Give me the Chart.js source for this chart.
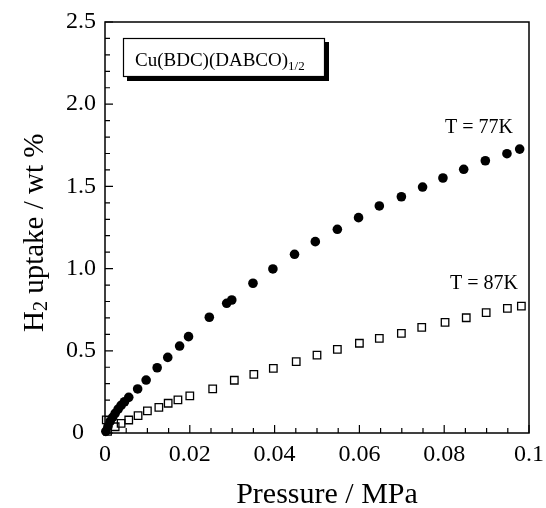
<!DOCTYPE html>
<html>
<head>
<meta charset="utf-8">
<script src="https://cdn.jsdelivr.net/npm/chart.js@4.4.1/dist/chart.umd.min.js"></script>
<style>
  html, body { margin: 0; padding: 0; background: #fff; }
  canvas { display: block; }
</style>
</head>
<body>
<canvas id="myChart" width="546" height="508"></canvas>
<script>
// T = 77K (filled circles)
var pressure77 = [0.0002, 0.0007, 0.0012, 0.0018, 0.0024, 0.0031, 0.0038, 0.0046, 0.0056, 0.0077, 0.0097, 0.0123, 0.0148, 0.0176, 0.0197, 0.0246, 0.0287, 0.0299, 0.0349, 0.0396, 0.0447, 0.0496, 0.0548, 0.0598, 0.0647, 0.0699, 0.0749, 0.0797, 0.0846, 0.0897, 0.0948, 0.0978];
var uptake77 = [0.01, 0.04, 0.07, 0.095, 0.12, 0.145, 0.168, 0.19, 0.217, 0.268, 0.322, 0.397, 0.46, 0.529, 0.586, 0.704, 0.789, 0.809, 0.911, 0.998, 1.087, 1.164, 1.239, 1.31, 1.381, 1.437, 1.496, 1.551, 1.604, 1.656, 1.699, 1.727];

// T = 87K (open squares)
var pressure87 = [0.0003, 0.0006, 0.0024, 0.0038, 0.0056, 0.0078, 0.0100, 0.0127, 0.0149, 0.0172, 0.0200, 0.0254, 0.0305, 0.0351, 0.0397, 0.0451, 0.0500, 0.0548, 0.0600, 0.0647, 0.0699, 0.0747, 0.0802, 0.0852, 0.0899, 0.0949, 0.0982];
var uptake87 = [0.08, 0.01, 0.038, 0.059, 0.079, 0.106, 0.134, 0.156, 0.181, 0.202, 0.226, 0.268, 0.321, 0.357, 0.393, 0.434, 0.474, 0.509, 0.546, 0.576, 0.606, 0.643, 0.673, 0.701, 0.732, 0.758, 0.772];

var seriesLabels = ['T = 77K', 'T = 87K'];
var materialName = 'Cu(BDC)(DABCO)';
var materialSub = '1/2';

var serif = "'Liberation Serif', 'Times New Roman', serif";

function toPoints(xs, ys) {
    return xs.map(function (x, i) { return {x: x, y: ys[i]}; });
}

// frame, inward ticks, annotations and axis titles
var decorations = {
    id: 'decorations',
    afterDraw: function (chart) {
        var ctx = chart.ctx, a = chart.chartArea;
        var xs = chart.scales.x, ys = chart.scales.y;
        ctx.save();
        ctx.strokeStyle = '#000';
        ctx.lineWidth = 1.5;
        ctx.strokeRect(a.left, a.top, a.right - a.left, a.bottom - a.top);

        ctx.lineWidth = 1.2;
        ctx.beginPath();
        for (var i = 0; i <= 20; i++) {
            var px = xs.getPixelForValue(i * 0.005);
            var len = i % 4 === 0 ? 8 : 5;
            ctx.moveTo(px, a.bottom);
            ctx.lineTo(px, a.bottom - len);
        }
        for (var j = 0; j <= 25; j++) {
            var py = ys.getPixelForValue(j * 0.1);
            var l2 = j % 5 === 0 ? 8 : 5;
            ctx.moveTo(a.left, py);
            ctx.lineTo(a.left + l2, py);
        }
        ctx.stroke();

        // material label box with drop shadow
        var bx = a.left + 18, by = a.top + 16, bw = 202, bh = 39;
        ctx.fillStyle = '#000';
        ctx.fillRect(bx + 4, by + 4, bw, bh);
        ctx.fillStyle = '#fff';
        ctx.fillRect(bx, by, bw, bh);
        ctx.lineWidth = 1.2;
        ctx.strokeRect(bx + 0.5, by + 0.5, bw - 1, bh - 1);
        ctx.fillStyle = '#000';
        ctx.textBaseline = 'alphabetic';
        ctx.textAlign = 'left';
        ctx.font = '19px ' + serif;
        ctx.fillText(materialName, bx + 12, by + 28);
        var w = ctx.measureText(materialName).width;
        ctx.font = '13px ' + serif;
        ctx.fillText(materialSub, bx + 12 + w, by + 32);

        // temperature labels
        ctx.font = '20px ' + serif;
        ctx.textAlign = 'right';
        ctx.fillText(seriesLabels[0], 513, 133);
        ctx.fillText(seriesLabels[1], 518, 289);

        // x axis title
        ctx.font = '30px ' + serif;
        ctx.textAlign = 'center';
        ctx.fillText('Pressure / MPa', 327, 503);

        // y axis title with subscript
        ctx.save();
        ctx.translate(43, 332);
        ctx.rotate(-Math.PI / 2);
        ctx.textAlign = 'left';
        ctx.font = '29px ' + serif;
        ctx.fillText('H', 0, 0);
        var hw = ctx.measureText('H').width;
        ctx.font = '20px ' + serif;
        ctx.fillText('2', hw, 4);
        var sw = ctx.measureText('2').width;
        ctx.font = '29px ' + serif;
        ctx.fillText(' uptake / wt %', hw + sw, 0);
        ctx.restore();

        ctx.restore();
    }
};

var ctx = document.getElementById('myChart').getContext('2d');
var myChart = new Chart(ctx, {
    type: 'scatter',
    data: {
        datasets: [{
            label: seriesLabels[0],
            data: toPoints(pressure77, uptake77),
            pointStyle: 'circle',
            pointRadius: 4.8,
            backgroundColor: '#000',
            borderColor: '#000',
            borderWidth: 0,
            clip: false
        }, {
            label: seriesLabels[1],
            data: toPoints(pressure87, uptake87),
            pointStyle: 'rect',
            pointRadius: 5.3,
            backgroundColor: 'rgba(255,255,255,0)',
            borderColor: '#000',
            borderWidth: 1.3,
            clip: false
        }]
    },
    options: {
        responsive: false,
        animation: false,
        events: [],
        layout: {
            padding: {top: 22, right: 17, bottom: 0, left: 0}
        },
        plugins: {
            legend: {display: false},
            tooltip: {enabled: false}
        },
        scales: {
            x: {
                type: 'linear',
                min: 0,
                max: 0.1,
                grid: {display: false, drawTicks: false},
                border: {display: false},
                afterFit: function (scale) {
                    scale.height = 75;
                    scale.paddingLeft = 0;
                    scale.paddingRight = 0;
                },
                ticks: {
                    stepSize: 0.02,
                    padding: 7,
                    color: '#000',
                    font: {family: serif, size: 24},
                    callback: function (v) { return String(Number(v.toFixed(3))); }
                }
            },
            y: {
                type: 'linear',
                min: 0,
                max: 2.5,
                grid: {display: false, drawTicks: false},
                border: {display: false},
                afterFit: function (scale) {
                    scale.width = 105;
                    scale.paddingTop = 0;
                    scale.paddingBottom = 0;
                },
                ticks: {
                    stepSize: 0.5,
                    padding: 9,
                    color: '#000',
                    font: {family: serif, size: 24},
                    callback: function (v) { return v === 0 ? '0  ' : v.toFixed(1); }
                }
            }
        }
    },
    plugins: [decorations]
});
</script>
</body>
</html>
